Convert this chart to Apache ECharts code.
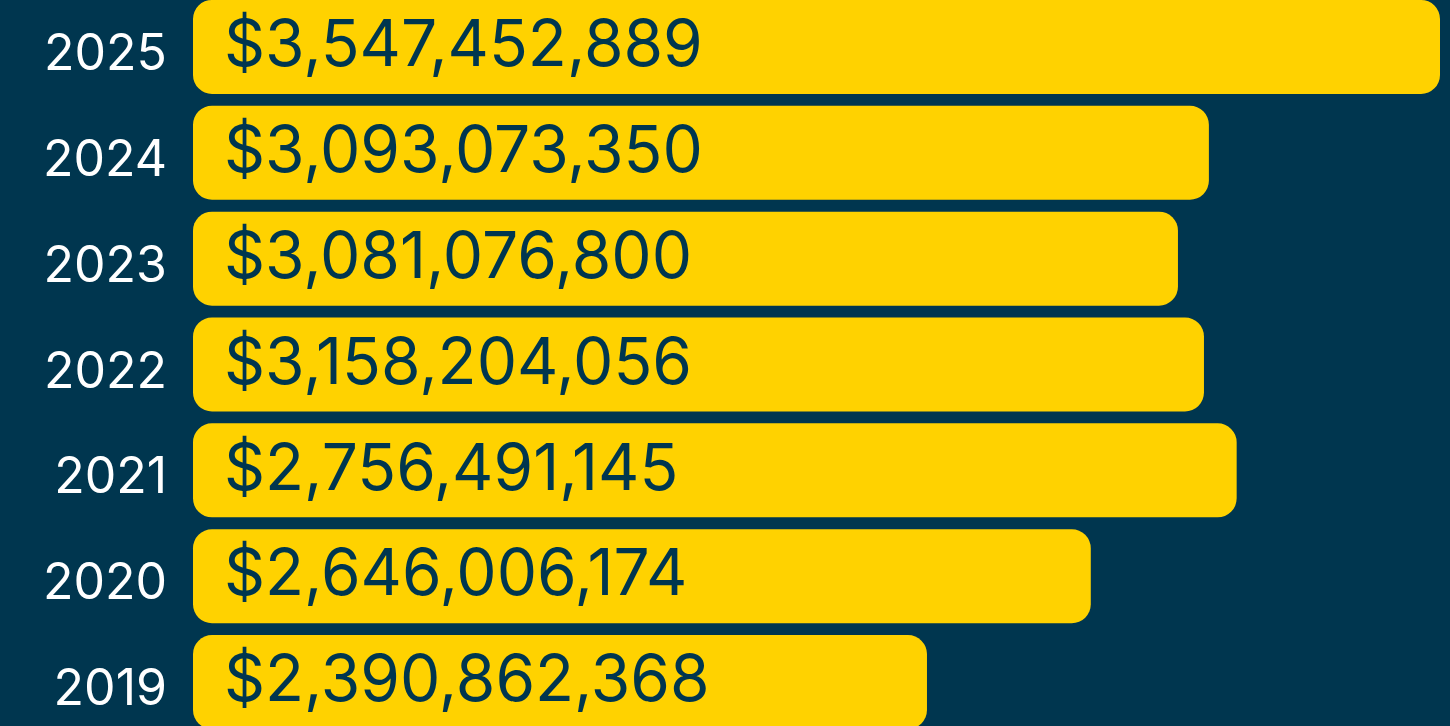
<!DOCTYPE html>
<html>
<head>
<meta charset="utf-8">
<script src="https://cdn.jsdelivr.net/npm/echarts@6/dist/echarts.min.js"></script>
<style>
html,body{margin:0;padding:0;background:#00364F;overflow:hidden;width:1450px;height:726px;}
#chart{width:1450px;height:741px;position:absolute;left:0;top:-6px;}
</style>
</head>
<body>
<div id="chart"></div>
<script>
// Years (top to bottom)
const years = ['2025', '2024', '2023', '2022', '2021', '2020', '2019'];
// Amounts printed on the bars
const amounts = [3547452889, 3093073350, 3081076800, 3158204056, 2756491145, 2646006174, 2390862368];
// Bar lengths as drawn in the picture (same units, read off bar ends; the design does not scale bars to the amounts)
const barLengths = [3547452889, 2890000000, 2802000000, 2876000000, 2969000000, 2554000000, 2088000000];

const fmt = v => '$' + v.toLocaleString('en-US');

const chart = echarts.init(document.getElementById('chart'));
chart.setOption({
  backgroundColor: '#00364F',
  animation: false,
  grid: { left: 193, right: 10, top: 0, bottom: 0, containLabel: false },
  xAxis: {
    type: 'value', min: 0, max: 3547452889,
    show: false
  },
  yAxis: {
    type: 'category', data: years, inverse: true,
    axisLine: { show: false }, axisTick: { show: false },
    axisLabel: {
      margin: 26,
      formatter: v => '{y|' + v + '}',
      rich: {
        y: { color: '#ffffff', fontFamily: 'Inter', fontSize: 50, padding: [16, 0, 0, 0] }
      }
    }
  },
  series: [{
    type: 'bar',
    data: barLengths.map((v, i) => ({ value: v, amount: amounts[i] })),
    barWidth: 94,
    itemStyle: { color: '#FFD200', borderRadius: 19 },
    label: {
      show: true, position: 'insideLeft', distance: 31,
      color: '#00364F', fontFamily: 'Inter', fontSize: 64,
      formatter: p => fmt(amounts[p.dataIndex])
    }
  }]
});
</script>
</body>
</html>
